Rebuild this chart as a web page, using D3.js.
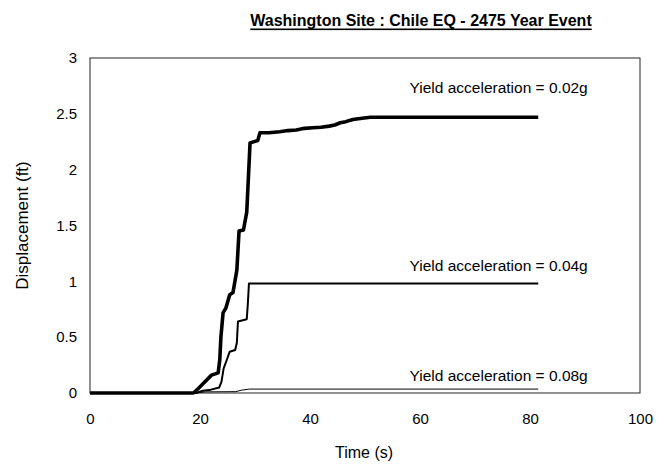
<!DOCTYPE html>
<html>
<head>
<meta charset="utf-8">
<script src="https://cdn.jsdelivr.net/npm/d3@7"></script>
<style>
  html, body { margin: 0; padding: 0; background: #fff; }
  svg text { font-family: "Liberation Sans", Arial, sans-serif; fill: #000; }
</style>
</head>
<body>
<svg id="chart" width="667" height="468"></svg>
<script>
// ---- Data ----
const chartTitle = "Washington Site : Chile EQ - 2475 Year Event";
const xTickValues = [0, 20, 40, 60, 80, 100];
const yTickValues = [0, 0.5, 1, 1.5, 2, 2.5, 3];
const yTickLabels = ["0", "0.5", "1", "1.5", "2", "2.5", "3"];

const seriesNames = ["Yield acceleration  = 0.02g", "Yield acceleration = 0.04g", "Yield acceleration = 0.08g"];

// Yield acceleration = 0.02g
const time002 = [0, 18.8, 19.7, 20.9, 22.1, 23.3, 23.6, 23.8, 24.2, 24.7, 25.4, 26.0, 26.7, 27.1, 27.9, 28.5, 29.1, 30.5, 30.9, 32.5, 34.5, 36, 37.5, 39, 40.5, 42, 43.5, 44.5, 45.5, 46.5, 47.8, 49.5, 51, 81.5];
const disp002 = [0, 0, 0.04, 0.10, 0.16, 0.18, 0.30, 0.50, 0.72, 0.76, 0.88, 0.90, 1.10, 1.45, 1.46, 1.62, 2.24, 2.26, 2.33, 2.33, 2.34, 2.35, 2.355, 2.37, 2.375, 2.38, 2.39, 2.40, 2.42, 2.43, 2.45, 2.46, 2.47, 2.47];

// Yield acceleration = 0.04g
const time004 = [0, 19.3, 20.5, 22, 23.5, 23.9, 24.3, 24.9, 25.4, 26.4, 26.7, 26.9, 28.5, 28.7, 28.9, 81.5];
const disp004 = [0, 0, 0.02, 0.03, 0.05, 0.10, 0.22, 0.30, 0.37, 0.385, 0.45, 0.64, 0.66, 0.80, 0.98, 0.98];

// Yield acceleration = 0.08g
const time008 = [0, 19, 21, 26.5, 27.5, 29, 81.5];
const disp008 = [0, 0, 0.01, 0.012, 0.025, 0.035, 0.035];

// ---- Layout ----
const svg = d3.select("#chart");
const margin = {left: 90, top: 58, right: 27, bottom: 75};
const W = 667, H = 468;
const x = d3.scaleLinear().domain([0, 100]).range([margin.left, W - margin.right]);
const y = d3.scaleLinear().domain([0, 3]).range([H - margin.bottom, margin.top]);

// Plot frame
svg.append("rect")
  .attr("x", x(0)).attr("y", y(3))
  .attr("width", x(100) - x(0)).attr("height", y(0) - y(3))
  .attr("fill", "none").attr("stroke", "#222").attr("stroke-width", 1);

// Axes (labels only, no visible ticks)
const xAxis = d3.axisBottom(x).tickValues(xTickValues).tickSize(0).tickPadding(20).tickFormat(d3.format("d"));
const gx = svg.append("g").attr("transform", `translate(0,${y(0)})`).call(xAxis);
gx.select(".domain").remove();
gx.selectAll("text").attr("font-size", 15).attr("font-family", "Liberation Sans, Arial, sans-serif");

const yAxis = d3.axisLeft(y).tickValues(yTickValues).tickSize(0).tickPadding(13)
  .tickFormat((d, i) => yTickLabels[i]);
const gy = svg.append("g").attr("transform", `translate(${x(0)},0)`).call(yAxis);
gy.select(".domain").remove();
gy.selectAll("text").attr("font-size", 15).attr("font-family", "Liberation Sans, Arial, sans-serif");

// Lines
const line = d3.line().x(d => x(d[0])).y(d => y(d[1]));
const series = [
  {t: time002, v: disp002, w: 3.6},
  {t: time004, v: disp004, w: 2},
  {t: time008, v: disp008, w: 1}
];
series.forEach(s => {
  const pts = s.t.map((t, i) => [t, s.v[i]]);
  svg.append("path").datum(pts)
    .attr("d", line)
    .attr("fill", "none").attr("stroke", "#000")
    .attr("stroke-width", s.w).attr("stroke-linejoin", "round");
});

// Series labels
const labelY = [2.74, 1.145, 0.16];
seriesNames.forEach((name, i) => {
  svg.append("text")
    .attr("x", x(90.5)).attr("y", y(labelY[i]))
    .attr("text-anchor", "end").attr("dominant-baseline", "central")
    .attr("font-size", 15.5)
    .text(name);
});

// Title
svg.append("text")
  .attr("x", 421).attr("y", 20)
  .attr("text-anchor", "middle").attr("dominant-baseline", "central")
  .attr("font-size", 16).attr("font-weight", "bold")
  .attr("text-decoration", "underline")
  .text(chartTitle);

// Axis titles
svg.append("text")
  .attr("x", 364).attr("y", 452)
  .attr("text-anchor", "middle").attr("dominant-baseline", "central")
  .attr("font-size", 16)
  .text("Time (s)");

svg.append("text")
  .attr("transform", `translate(22,${(y(0) + y(3)) / 2}) rotate(-90)`)
  .attr("text-anchor", "middle").attr("dominant-baseline", "central")
  .attr("font-size", 17)
  .text("Displacement (ft)");
</script>
</body>
</html>
